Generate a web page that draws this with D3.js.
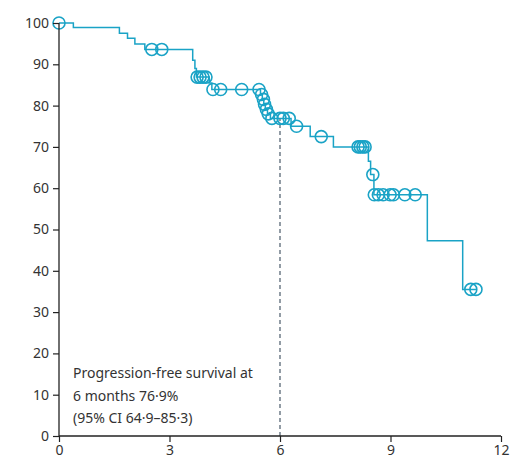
<!DOCTYPE html>
<html>
<head>
<meta charset="utf-8">
<script src="https://cdn.jsdelivr.net/npm/d3@7"></script>
<style>
  body { margin: 0; background: #fff; }
  svg text { font-family: "Noto Sans", sans-serif; fill: #333; }
</style>
</head>
<body>
<div id="chart"></div>
<script>
// Kaplan-Meier steps (months, % progression-free)
const kmTime = [0, 0.39, 1.64, 1.86, 2.06, 2.33, 3.63, 3.69, 3.73, 4.08, 4.15, 5.47, 5.52, 5.56, 5.60, 5.66, 5.74, 6.30, 6.82, 7.45, 8.40, 8.46, 8.55, 10.0, 10.96, 11.32];
const kmSurv = [100, 98.9, 97.5, 96.3, 94.9, 93.6, 91.0, 89.0, 86.9, 85.5, 83.9, 82.7, 81.5, 80.3, 79.1, 78.0, 76.9, 75.0, 72.5, 70.0, 66.5, 63.3, 58.4, 47.3, 35.5, 35.5];

// censored patients
const censorTime = [0, 2.52, 2.79, 3.75, 3.83, 3.91, 3.99, 4.18, 4.39, 4.96, 5.43, 5.50, 5.55, 5.58, 5.63, 5.68, 5.78, 6.00, 6.09, 6.25, 6.45, 7.12, 8.12, 8.18, 8.25, 8.31, 8.52, 8.56, 8.67, 8.80, 8.99, 9.08, 9.39, 9.67, 11.18, 11.32];
const censorSurv = [100, 93.6, 93.6, 86.9, 86.9, 86.9, 86.9, 83.9, 83.9, 83.9, 83.9, 82.7, 81.5, 80.3, 79.1, 78.0, 76.9, 76.9, 76.9, 76.9, 75.0, 72.5, 70.0, 70.0, 70.0, 70.0, 63.3, 58.4, 58.4, 58.4, 58.4, 58.4, 58.4, 58.4, 35.5, 35.5];

const xTicks = [0, 3, 6, 9, 12];
const yTicks = [0, 10, 20, 30, 40, 50, 60, 70, 80, 90, 100];
const markTime = 6;
const markSurv = 76.9;
const noteLines = ["Progression-free survival at", "6 months 76\u00b79%", "(95% CI 64\u00b79\u201385\u00b73)"];

const w = 510, h = 462;
const teal = "#1aa3c6";

const xScale = d3.scaleLinear().domain([0, 12]).range([59, 501]);
const yScale = d3.scaleLinear().domain([0, 100]).range([436, 23]);

const svg = d3.select("#chart").append("svg")
    .attr("width", w)
    .attr("height", h);

// dashed marker at 6 months
svg.append("line")
    .attr("x1", xScale(markTime)).attr("x2", xScale(markTime))
    .attr("y1", yScale(0)).attr("y2", yScale(markSurv))
    .attr("stroke", "#4a5a6a")
    .attr("stroke-width", 1.2)
    .attr("stroke-dasharray", "4,3");

const km = kmTime.map((t, i) => [t, kmSurv[i]]);
const line = d3.line()
    .x(d => xScale(d[0]))
    .y(d => yScale(d[1]))
    .curve(d3.curveStepAfter);

svg.append("path")
    .datum(km)
    .attr("d", line)
    .attr("fill", "none")
    .attr("stroke", teal)
    .attr("stroke-width", 1.5);

svg.selectAll("circle.censor")
    .data(censorTime.map((t, i) => [t, censorSurv[i]]))
    .enter()
    .append("circle")
    .attr("class", "censor")
    .attr("cx", d => xScale(d[0]))
    .attr("cy", d => yScale(d[1]))
    .attr("r", 6)
    .attr("fill", "none")
    .attr("stroke", teal)
    .attr("stroke-width", 1.6);

// axes
const xAxis = d3.axisBottom(xScale).tickValues(xTicks).tickSize(6).tickPadding(3);
const yAxis = d3.axisLeft(yScale).tickValues(yTicks).tickSize(6).tickPadding(4);

const gx = svg.append("g")
    .attr("transform", `translate(0, ${yScale(0)})`)
    .call(xAxis);
const gy = svg.append("g")
    .attr("transform", `translate(${xScale(0)}, 0)`)
    .call(yAxis);

[gx, gy].forEach(g => {
    g.select(".domain").attr("stroke", "#222").attr("stroke-width", 1.3);
    g.selectAll(".tick line").attr("stroke", "#222").attr("stroke-width", 1.2);
    g.selectAll(".tick text").style("font-size", "14px").attr("fill", "#333");
});
gx.select(".domain").attr("d", `M${xScale(0)},0H${xScale(12)}`);
gy.select(".domain").attr("d", `M0,${yScale(0)}V${yScale(100)}`);

// annotation
svg.append("text")
    .attr("x", 73)
    .attr("y", 378)
    .style("font-size", "14px")
    .selectAll("tspan")
    .data(noteLines)
    .enter()
    .append("tspan")
    .attr("x", 73)
    .attr("dy", (d, i) => i === 0 ? 0 : 22.5)
    .text(d => d);
</script>
</body>
</html>
